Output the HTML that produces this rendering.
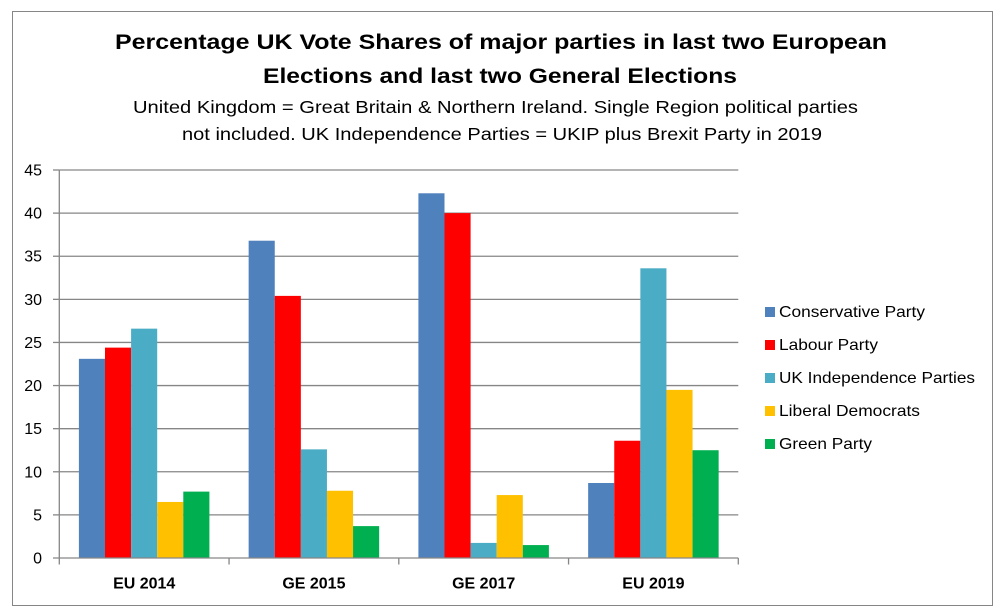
<!DOCTYPE html>
<html><head><meta charset="utf-8"><style>
html,body{margin:0;padding:0;background:#fff;}
svg{display:block;}
text{font-family:"Liberation Sans",sans-serif;fill:#000;}
</style></head><body>
<svg width="1004" height="614" viewBox="0 0 1004 614" xmlns="http://www.w3.org/2000/svg">
<rect x="0" y="0" width="1004" height="614" fill="#fff"/>
<rect x="12.5" y="11.5" width="980" height="594" fill="#fff" stroke="#868686" stroke-width="1"/>

<!-- Titles -->
<text x="115" y="49" font-size="21" font-weight="bold" textLength="772" lengthAdjust="spacingAndGlyphs">Percentage UK Vote Shares of major parties in last two European</text>
<text x="263" y="83" font-size="21" font-weight="bold" textLength="474" lengthAdjust="spacingAndGlyphs">Elections and last two General Elections</text>
<text x="133" y="113" font-size="17.5" textLength="725" lengthAdjust="spacingAndGlyphs">United Kingdom = Great Britain &amp; Northern Ireland. Single Region political parties</text>
<text x="182" y="140" font-size="17.5" textLength="640" lengthAdjust="spacingAndGlyphs">not included. UK Independence Parties = UKIP plus Brexit Party in 2019</text>

<!-- Gridlines -->
<g stroke="#868686" stroke-width="1.3">
<line x1="59.3" y1="170" x2="738.3" y2="170"/>
<line x1="59.3" y1="213.12" x2="738.3" y2="213.12"/>
<line x1="59.3" y1="256.23" x2="738.3" y2="256.23"/>
<line x1="59.3" y1="299.34" x2="738.3" y2="299.34"/>
<line x1="59.3" y1="342.45" x2="738.3" y2="342.45"/>
<line x1="59.3" y1="385.56" x2="738.3" y2="385.56"/>
<line x1="59.3" y1="428.67" x2="738.3" y2="428.67"/>
<line x1="59.3" y1="471.78" x2="738.3" y2="471.78"/>
<line x1="59.3" y1="514.89" x2="738.3" y2="514.89"/>
</g>

<!-- Bars -->
<g>
<!-- EU 2014 -->
<rect x="78.9" y="358.83" width="26.1" height="199.17" fill="#4F81BD"/>
<rect x="105.0" y="347.62" width="26.1" height="210.38" fill="#FF0000"/>
<rect x="131.1" y="328.65" width="26.1" height="229.35" fill="#4BACC6"/>
<rect x="157.2" y="501.96" width="26.1" height="56.04" fill="#FFC000"/>
<rect x="183.3" y="491.61" width="26.1" height="66.39" fill="#00B050"/>
<!-- GE 2015 -->
<rect x="248.65" y="240.71" width="26.1" height="317.29" fill="#4F81BD"/>
<rect x="274.75" y="295.89" width="26.1" height="262.11" fill="#FF0000"/>
<rect x="300.85" y="449.36" width="26.1" height="108.64" fill="#4BACC6"/>
<rect x="326.95" y="490.75" width="26.1" height="67.25" fill="#FFC000"/>
<rect x="353.05" y="526.1" width="26.1" height="31.9" fill="#00B050"/>
<!-- GE 2017 -->
<rect x="418.4" y="193.29" width="26.1" height="364.71" fill="#4F81BD"/>
<rect x="444.5" y="213.12" width="26.1" height="344.88" fill="#FF0000"/>
<rect x="470.6" y="542.91" width="26.1" height="15.09" fill="#4BACC6"/>
<rect x="496.7" y="495.06" width="26.1" height="62.94" fill="#FFC000"/>
<rect x="522.8" y="545.07" width="26.1" height="12.93" fill="#00B050"/>
<!-- EU 2019 -->
<rect x="588.15" y="482.99" width="26.1" height="75.01" fill="#4F81BD"/>
<rect x="614.25" y="440.74" width="26.1" height="117.26" fill="#FF0000"/>
<rect x="640.35" y="268.3" width="26.1" height="289.7" fill="#4BACC6"/>
<rect x="666.45" y="389.87" width="26.1" height="168.13" fill="#FFC000"/>
<rect x="692.55" y="450.22" width="26.1" height="107.78" fill="#00B050"/>
</g>

<!-- Axes -->
<g stroke="#868686" stroke-width="1.3">
<line x1="59.3" y1="170" x2="59.3" y2="558"/>
<line x1="53" y1="558" x2="738.3" y2="558"/>
<line x1="53" y1="170" x2="59.3" y2="170"/>
<line x1="53" y1="213.12" x2="59.3" y2="213.12"/>
<line x1="53" y1="256.23" x2="59.3" y2="256.23"/>
<line x1="53" y1="299.34" x2="59.3" y2="299.34"/>
<line x1="53" y1="342.45" x2="59.3" y2="342.45"/>
<line x1="53" y1="385.56" x2="59.3" y2="385.56"/>
<line x1="53" y1="428.67" x2="59.3" y2="428.67"/>
<line x1="53" y1="471.78" x2="59.3" y2="471.78"/>
<line x1="53" y1="514.89" x2="59.3" y2="514.89"/>
<line x1="59.3" y1="558" x2="59.3" y2="564.5"/>
<line x1="229.05" y1="558" x2="229.05" y2="564.5"/>
<line x1="398.8" y1="558" x2="398.8" y2="564.5"/>
<line x1="568.55" y1="558" x2="568.55" y2="564.5"/>
<line x1="738.3" y1="558" x2="738.3" y2="564.5"/>
</g>

<!-- Y labels -->
<g font-size="16" text-anchor="end">
<text x="42" y="175.5">45</text>
<text x="42" y="218.6">40</text>
<text x="42" y="261.7">35</text>
<text x="42" y="304.8">30</text>
<text x="42" y="348">25</text>
<text x="42" y="391.1">20</text>
<text x="42" y="434.2">15</text>
<text x="42" y="477.3">10</text>
<text x="42" y="520.4">5</text>
<text x="42" y="563.5">0</text>
</g>

<!-- X labels -->
<g font-size="16" font-weight="bold" text-anchor="middle">
<text x="144.2" y="588.5">EU 2014</text>
<text x="313.9" y="588.5">GE 2015</text>
<text x="483.7" y="588.5">GE 2017</text>
<text x="653.4" y="588.5">EU 2019</text>
</g>

<!-- Legend -->
<rect x="765" y="307" width="10" height="10" fill="#4F81BD"/>
<rect x="765" y="340" width="10" height="10" fill="#FF0000"/>
<rect x="765" y="373" width="10" height="10" fill="#4BACC6"/>
<rect x="765" y="406" width="10" height="10" fill="#FFC000"/>
<rect x="765" y="439" width="10" height="10" fill="#00B050"/>
<g font-size="16">
<text x="779" y="317" textLength="146" lengthAdjust="spacingAndGlyphs">Conservative Party</text>
<text x="779" y="350" textLength="99" lengthAdjust="spacingAndGlyphs">Labour Party</text>
<text x="779" y="383" textLength="196" lengthAdjust="spacingAndGlyphs">UK Independence Parties</text>
<text x="779" y="416" textLength="141" lengthAdjust="spacingAndGlyphs">Liberal Democrats</text>
<text x="779" y="449" textLength="93" lengthAdjust="spacingAndGlyphs">Green Party</text>
</g>
</svg>
</body></html>
